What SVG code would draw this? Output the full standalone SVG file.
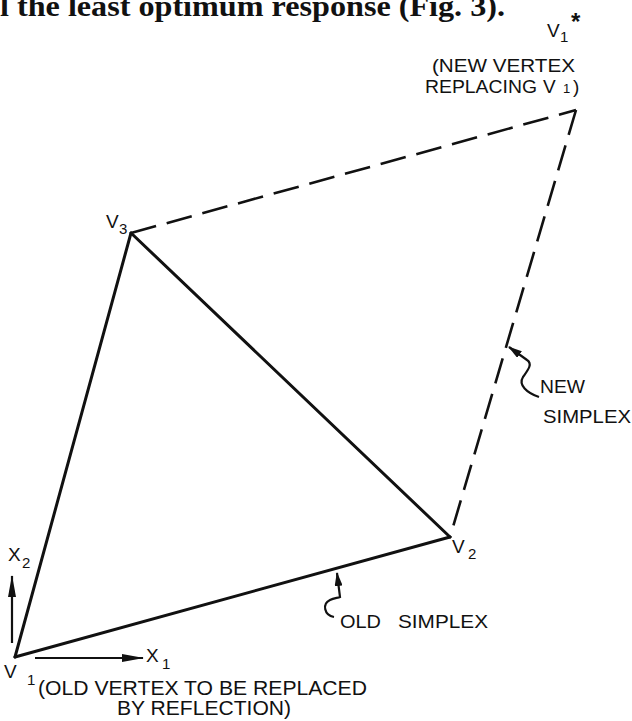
<svg xmlns="http://www.w3.org/2000/svg" width="632" height="721" viewBox="0 0 632 721">
<style>
text{font-family:"Liberation Sans","DejaVu Sans",sans-serif;fill:#111}
.lbl{font-size:19px}
.sub{font-size:15px}
.big{font-size:21px}
.edge{stroke:#111;stroke-width:3;fill:none;stroke-linecap:round}
.dash{stroke:#111;stroke-width:2.6;fill:none;stroke-dasharray:26 11}
.thin{stroke:#111;stroke-width:2.2;fill:none}
</style>
<defs>
<marker id="axisArrow" markerUnits="userSpaceOnUse" markerWidth="22" markerHeight="8" refX="21" refY="4" orient="auto">
<path d="M0,0 L22,4 L0,8 z" fill="#111"/>
</marker>
<marker id="ptrArrow" markerUnits="userSpaceOnUse" markerWidth="14" markerHeight="8" refX="13" refY="4" orient="auto">
<path d="M0,0 L14,4 L0,8 z" fill="#111"/>
</marker>
</defs>
<rect width="632" height="721" fill="#fff"/>
<text x="0" y="16" style="font-family:'Liberation Serif',serif;font-size:29px;font-weight:bold" textLength="505" lengthAdjust="spacingAndGlyphs">l the least optimum response (Fig. 3).</text>
<g id="connectors">
<line class="edge" x1="15" y1="657" x2="450" y2="537"/>
<line class="edge" x1="15" y1="657" x2="131" y2="233"/>
<line class="edge" x1="131" y1="233" x2="450" y2="537"/>
<line class="dash" x1="131" y1="233" x2="576" y2="110"/>
<line class="dash" x1="576" y1="110" x2="450" y2="537"/>
</g>
<g id="axes">
<line class="thin" x1="12" y1="643" x2="12" y2="576" marker-end="url(#axisArrow)"/>
<line class="thin" x1="35" y1="658" x2="143" y2="658" marker-end="url(#axisArrow)"/>
<text class="lbl" x="8" y="561">X</text><text class="sub" x="22" y="568">2</text>
<text class="lbl" x="146" y="662">X</text><text class="sub" x="162" y="669">1</text>
</g>
<g id="v1">
<text class="lbl" x="4" y="678">V</text><text class="sub" x="27" y="685">1</text>
<text class="big" x="38" y="695" textLength="329" lengthAdjust="spacingAndGlyphs">(OLD VERTEX TO BE REPLACED</text>
<text class="big" x="117" y="715" textLength="174" lengthAdjust="spacingAndGlyphs">BY REFLECTION)</text>
</g>
<g id="v2">
<text class="lbl" x="452" y="553">V</text><text class="sub" x="468" y="559">2</text>
</g>
<g id="v3">
<text class="lbl" x="106" y="228">V</text><text class="sub" x="119" y="234">3</text>
</g>
<g id="v1star">
<text class="lbl" x="547" y="37">V</text><text class="sub" x="560" y="42">1</text>
<text style="font-size:24px;font-weight:bold" x="571" y="30">*</text>
<text class="lbl" x="432" y="72" textLength="143" lengthAdjust="spacingAndGlyphs">(NEW VERTEX</text>
<text class="lbl" x="425" y="93" textLength="112" lengthAdjust="spacingAndGlyphs">REPLACING</text>
<text class="lbl" x="543" y="93">V</text>
<text x="563" y="93" style="font-size:13px">1</text>
<text class="lbl" x="573" y="93">)</text>
</g>
<g id="old-simplex">
<path class="thin" d="M334,617 C 324,615 322,604 330,600 C 334,598 338,598 340,597 L 337,573" marker-end="url(#ptrArrow)"/>
<text class="lbl" x="340" y="628" textLength="41" lengthAdjust="spacingAndGlyphs">OLD</text>
<text class="lbl" x="398" y="628" textLength="90" lengthAdjust="spacingAndGlyphs">SIMPLEX</text>
</g>
<g id="new-simplex">
<path class="thin" d="M539,397 C 527,393 518,385 523,377 C 528,370 533,364 527,360 L 509,347" marker-end="url(#ptrArrow)"/>
<text class="lbl" x="540" y="393" textLength="45" lengthAdjust="spacingAndGlyphs">NEW</text>
<text class="lbl" x="543" y="423" textLength="88" lengthAdjust="spacingAndGlyphs">SIMPLEX</text>
</g>
</svg>
